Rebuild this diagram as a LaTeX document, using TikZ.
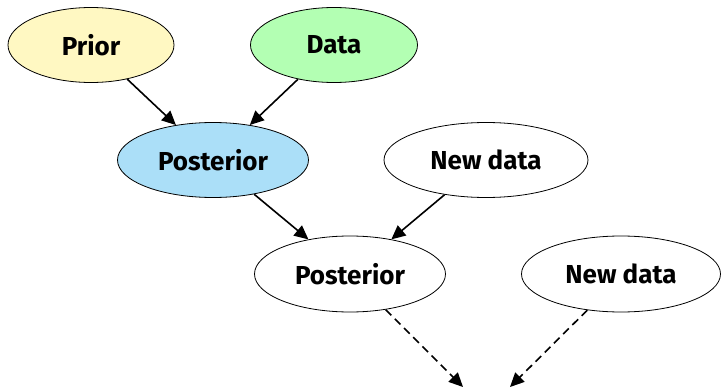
\documentclass[tikz,border=0pt]{standalone}
\usepackage{fontspec}
\setmainfont{Fira Sans}
\usetikzlibrary{shapes.geometric,arrows.meta}
\definecolor{priorc}{HTML}{FFF8C2}
\definecolor{datac}{HTML}{B3FFB3}
\definecolor{postc}{HTML}{ABDFF8}
\tikzset{
  ell/.style={ellipse, draw=black, line width=0.8pt, inner sep=0pt, font=\fontsize{26}{30}\selectfont\bfseries},
  arr/.style={line width=1.6pt, -{Triangle[length=14pt,width=13pt]}},
  darr/.style={arr, dash pattern=on 8pt off 5pt}
}
\begin{document}
\begin{tikzpicture}[x=1pt,y=-1pt]
\useasboundingbox (0,0) rectangle (721,388);
\node[ell, fill=priorc, minimum width=166pt, minimum height=75pt] (prior) at (91,45) {Prior};
\node[ell, fill=datac, minimum width=167pt, minimum height=75pt] (data) at (334,45) {Data};
\node[ell, fill=postc, minimum width=191pt, minimum height=75pt] (post1) at (213,160) {Posterior};
\node[ell, fill=white, minimum width=204pt, minimum height=75pt] (new1) at (486,160) {New data};
\node[ell, fill=white, minimum width=191pt, minimum height=76pt] (post2) at (350,274) {Posterior};
\node[ell, fill=white, minimum width=199pt, minimum height=76pt] (new2) at (621,274) {New data};
\coordinate (e1) at (463,387);
\coordinate (e2) at (510,387);
\draw[arr] (prior) -- (post1);
\draw[arr] (data) -- (post1);
\draw[arr] (post1) -- (post2);
\draw[arr] (new1) -- (post2);
\draw[darr] (post2.-45) -- (e1);
\draw[darr] (new2.227) -- (e2);
\end{tikzpicture}
\end{document}
